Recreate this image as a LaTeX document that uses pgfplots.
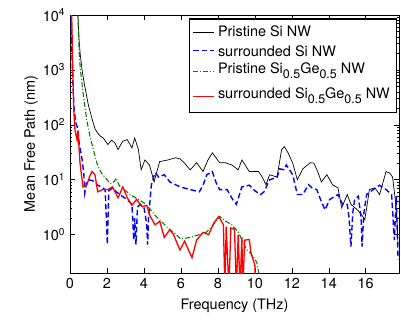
\documentclass[border=0pt]{standalone}
\usepackage{fontspec}
\setmainfont{TeX Gyre Heros}
\usepackage{pgfplots}
\pgfplotsset{compat=1.18}
\newcommand{\sub}[1]{\raisebox{-5.5bp}{\fontsize{12.5}{12.5}\selectfont #1}}
\definecolor{mgreen}{rgb}{0,0.5,0}
\begin{document}
\fontsize{14.5}{17}\selectfont
\begin{tikzpicture}
\begin{axis}[
 name=ax,
 scale only axis,
 width=329bp, height=258bp,
 ymode=log, xmin=0, xmax=17.8, ymin=0.2, ymax=1e4,
 xtick={0,2,...,16},
 ytick={1,10,100,1000,10000},
 yticklabels={10\textsuperscript{0},10\textsuperscript{1},10\textsuperscript{2},10\textsuperscript{3},10\textsuperscript{4}},
 tick align=inside,
 major tick length=5bp, minor tick length=2.5bp,
 every tick/.style={black, line width=0.5bp},
 axis line style={line width=0.9bp},
 xlabel={Frequency (THz)}, ylabel={Mean Free Path (nm)},
 ylabel shift=-5bp, xlabel shift=1bp,
 /pgf/number format/assume math mode=true,
 tick label style={font=\fontsize{14.5}{17}\selectfont},
 label style={font=\fontsize{14.5}{17}\selectfont},
 legend style={at={(rel axis cs:0.991,0.985)}, anchor=north east, name=leg,
   cells={anchor=west}, font=\fontsize{14.5}{17}\selectfont, inner sep=3bp, row sep=0bp,
   nodes={inner xsep=3bp, inner ysep=1bp, text depth={}, text height={}}},
 legend image code/.code={\draw[#1] (0bp,0bp) -- (21bp,0bp);},
 clip=true,
]
\addplot[black, line width=0.7bp] coordinates {
(0.42,11220)(0.5,3162)(0.55,1995)(0.65,1000)(0.8,501)(1.0,224)(1.2,126)(1.35,85.1)(1.5,70.8)(1.62,63.1)(1.8,57.5)(2.05,43.7)(2.25,52.5)(2.43,46.8)(2.6,35.5)(2.85,50.1)(3.1,53.7)(3.35,38.0)(3.5,57.5)(3.7,35.5)(3.85,15.1)(4.05,22.9)(4.3,18.6)(4.55,9.12)(4.85,21.4)(5.3,22.9)(5.7,25.1)(5.95,24.0)(6.2,20.0)(6.5,15.1)(6.85,20.4)(7.2,14.1)(7.45,22.4)(7.7,30.9)(7.9,25.1)(8.1,20.4)(8.4,20.4)(8.75,18.6)(9.1,15.1)(9.3,22.9)(9.7,14.1)(10.2,14.1)(10.4,11.2)(10.6,8.13)(10.8,12.3)(11.2,11.2)(11.45,35.5)(11.6,39.8)(11.8,30.9)(12.05,20.0)(12.3,10.0)(12.6,15.8)(13.0,20.4)(13.2,20.0)(13.4,14.1)(13.6,9.12)(13.9,12.3)(14.2,8.13)(14.5,7.08)(14.7,3.09)(15.0,5.37)(15.2,3.55)(15.55,2.82)(15.8,2.24)(15.95,1.86)(16.2,6.61)(16.5,7.08)(16.75,5.37)(17.1,14.1)(17.3,13.2)(17.45,11.2)(17.6,4.37)(17.7,1.58)(17.75,0.631)
};
\addlegendentry{\rule[-5bp]{0pt}{18bp}Pristine Si NW}
\addplot[blue, line width=1.4bp, dash pattern=on 5.5bp off 3bp] coordinates {
(0.05,11220)(0.1,2512)(0.15,631)(0.22,200)(0.3,112)(0.4,89.1)(0.5,44.7)(0.65,24.0)(0.75,12.6)(0.8,5.75)(0.9,8.91)(1.0,10.0)(1.24,9.55)(1.5,7.94)(1.7,7.41)(1.9,6.61)(1.98,1.58)(2.02,0.661)(2.06,2.0)(2.1,6.31)(2.3,7.08)(2.5,6.03)(2.7,5.37)(2.9,4.79)(3.1,4.37)(3.35,3.55)(3.45,0.794)(3.5,2.0)(3.57,0.661)(3.65,3.16)(3.8,3.55)(4.0,3.16)(4.15,1.58)(4.2,0.661)(4.25,2.0)(4.4,7.94)(4.6,13.5)(4.8,11.2)(5.1,12.3)(5.4,9.12)(5.95,7.41)(6.5,6.61)(7.0,6.03)(7.2,7.94)(7.4,12.3)(7.7,14.1)(7.9,8.91)(8.1,6.61)(8.5,6.61)(8.8,4.37)(9.0,3.55)(9.3,7.41)(9.7,7.94)(10.0,6.31)(10.3,5.37)(10.5,6.03)(10.8,10.0)(11.2,11.0)(11.35,15.8)(11.6,15.1)(11.7,18.6)(11.8,16.6)(12.05,12.3)(12.3,5.37)(12.6,5.37)(12.9,8.13)(13.1,7.08)(13.35,6.61)(13.6,3.98)(13.8,2.82)(14.05,4.37)(14.5,5.37)(14.75,3.55)(15.0,3.55)(15.1,2.0)(15.2,0.603)(15.3,2.51)(15.4,4.37)(15.6,5.01)(15.75,2.0)(15.8,0.603)(15.9,2.51)(16.05,5.37)(16.4,6.61)(16.75,7.94)(17.1,6.61)(17.4,5.37)(17.55,0.794)(17.65,5.01)(17.75,0.355)
};
\addlegendentry{\rule[-2bp]{0pt}{15bp}surrounded Si NW}
\addplot[mgreen, line width=1.1bp, dash pattern=on 5bp off 2bp on 1bp off 2bp] coordinates {
(0.42,11220)(0.5,1995)(0.55,1122)(0.7,398)(0.9,126)(1.1,57.5)(1.3,31.6)(1.5,17.8)(1.7,13.2)(2.0,10.0)(2.2,8.51)(2.4,9.33)(2.5,10.7)(2.65,7.94)(2.8,7.08)(3.0,6.31)(3.3,5.25)(3.6,4.57)(4.0,3.80)(4.3,3.02)(4.6,2.24)(5.0,1.66)(5.3,1.32)(5.6,1.10)(6.0,0.832)(6.5,0.891)(7.0,1.0)(7.4,1.12)(7.8,1.58)(8.1,2.14)(8.4,1.78)(8.75,1.51)(9.1,1.12)(9.55,0.537)(9.8,0.447)(10.1,0.316)(10.25,0.178)
};
\addlegendentry{\rule[-10bp]{0pt}{23bp}Pristine Si\sub{0.5}Ge\sub{0.5} NW}
\addplot[red, line width=1.3bp] coordinates {
(0.08,11220)(0.1,7413)(0.15,1000)(0.2,200)(0.27,79.4)(0.38,53.7)(0.43,79.4)(0.54,20.4)(0.7,7.41)(0.92,8.13)(1.05,11.2)(1.19,14.1)(1.35,12.3)(1.5,6.03)(1.78,6.61)(2.05,6.61)(2.3,7.41)(2.6,4.68)(2.86,7.41)(3.1,4.68)(3.35,3.39)(3.6,4.37)(3.9,3.24)(4.15,3.39)(4.3,2.29)(4.6,1.51)(4.86,1.74)(5.1,0.891)(5.4,1.23)(5.6,1.0)(5.95,0.525)(6.2,0.759)(6.6,0.380)(6.85,0.794)(7.2,1.10)(7.5,1.0)(7.8,1.66)(8.05,2.14)(8.3,1.51)(8.38,0.1)(8.45,1.41)(8.6,0.1)(8.7,1.32)(8.9,1.26)(9.0,0.1)(9.1,1.0)(9.2,0.1)(9.3,0.891)(9.35,0.1)(9.45,0.794)(9.7,0.813)(9.8,0.447)(10.0,0.282)(10.05,0.1)
};
\addlegendentry{\rule[-10bp]{0pt}{23bp}surrounded Si\sub{0.5}Ge\sub{0.5} NW}
\end{axis}
\draw[line width=0.9bp] (leg.south west) rectangle (leg.north east);
\pgfresetboundingbox
\path ([xshift=-70bp,yshift=-48bp]ax.south west) rectangle ([xshift=2bp,yshift=15bp]ax.north east);
\end{tikzpicture}
\end{document}
